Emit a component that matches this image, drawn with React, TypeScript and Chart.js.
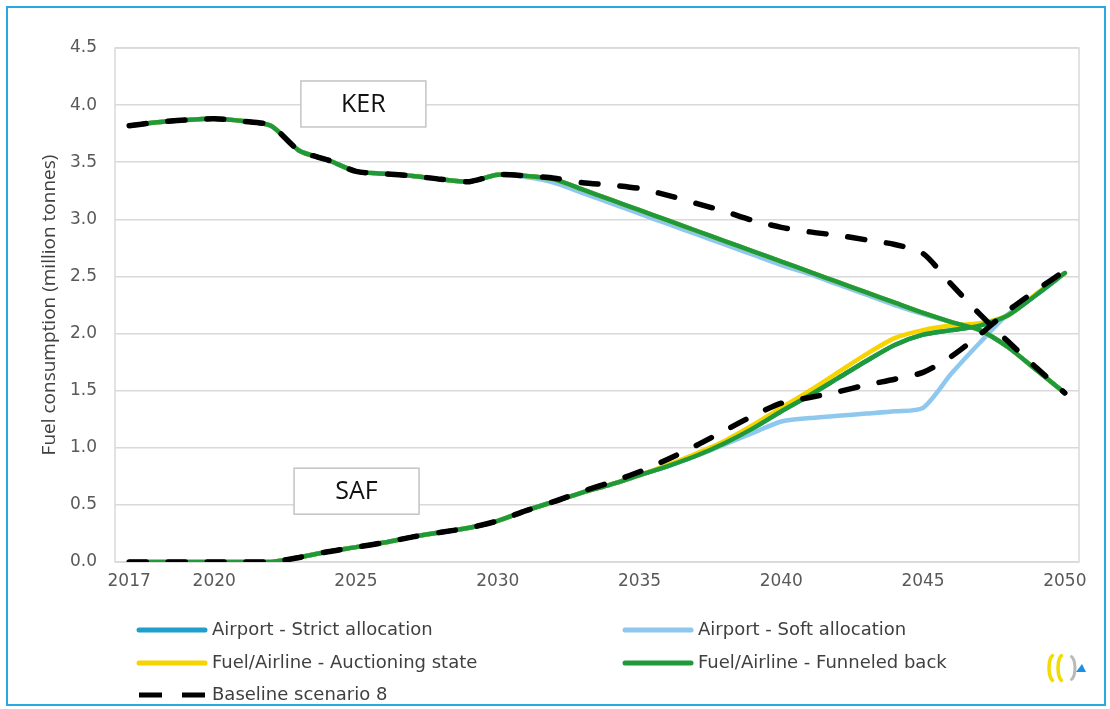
import React, { useEffect, useRef } from "react";
import { Chart, registerables } from "chart.js";

Chart.register(...registerables);

// ---------- DATA ----------
const years = [
  2017, 2018, 2019, 2020, 2021, 2022, 2023, 2024, 2025, 2026, 2027, 2028, 2029, 2030, 2031, 2032, 2033,
  2034, 2035, 2036, 2037, 2038, 2039, 2040, 2041, 2042, 2043, 2044, 2045, 2046, 2047, 2048, 2049, 2050,
];
const shownYearTicks = [2017, 2020, 2025, 2030, 2035, 2040, 2045, 2050];

const scenarioLabels = [
  "Airport - Strict allocation",
  "Airport - Soft allocation",
  "Fuel/Airline - Auctioning state",
  "Fuel/Airline - Funneled back",
  "Baseline scenario 8",
];
const scenarioColors = ["#1f9fca", "#8ec8ee", "#f7d300", "#1f9a3b", "#000000"];

// Kerosene (KER)
const kerStrict = [
  3.82, 3.85, 3.87, 3.88, 3.86, 3.82, 3.6, 3.52, 3.42, 3.4, 3.38, 3.35, 3.33, 3.39, 3.38, 3.35, 3.26,
  3.17, 3.08, 2.99, 2.9, 2.81, 2.72, 2.63, 2.54, 2.45, 2.36, 2.27, 2.18, 2.1, 2.03, 1.88, 1.68, 1.48,
];
const kerSoft = [
  3.82, 3.85, 3.87, 3.88, 3.86, 3.82, 3.6, 3.52, 3.42, 3.4, 3.38, 3.35, 3.33, 3.39, 3.37, 3.32, 3.23,
  3.14, 3.05, 2.96, 2.87, 2.78, 2.69, 2.6, 2.52, 2.43, 2.34, 2.25, 2.17, 2.1, 2.03, 1.88, 1.68, 1.48,
];
const kerAuction = [
  3.82, 3.85, 3.87, 3.88, 3.86, 3.82, 3.6, 3.52, 3.42, 3.4, 3.38, 3.35, 3.33, 3.39, 3.38, 3.35, 3.26,
  3.17, 3.08, 2.99, 2.9, 2.81, 2.72, 2.63, 2.54, 2.45, 2.36, 2.27, 2.18, 2.1, 2.03, 1.88, 1.68, 1.48,
];
const kerFunneled = [
  3.82, 3.85, 3.87, 3.88, 3.86, 3.82, 3.6, 3.52, 3.42, 3.4, 3.38, 3.35, 3.33, 3.39, 3.38, 3.35, 3.26,
  3.17, 3.08, 2.99, 2.9, 2.81, 2.72, 2.63, 2.54, 2.45, 2.36, 2.27, 2.18, 2.1, 2.03, 1.88, 1.68, 1.48,
];
const kerBaseline = [
  3.82, 3.85, 3.87, 3.88, 3.86, 3.82, 3.6, 3.52, 3.42, 3.4, 3.38, 3.35, 3.33, 3.39, 3.38, 3.36, 3.32,
  3.3, 3.27, 3.21, 3.14, 3.07, 2.99, 2.93, 2.89, 2.86, 2.82, 2.78, 2.7, 2.43, 2.17, 1.93, 1.7, 1.48,
];

// Sustainable aviation fuel (SAF)
const safStrict = [
  0, 0, 0, 0, 0, 0, 0.04, 0.09, 0.13, 0.17, 0.22, 0.26, 0.3, 0.36, 0.45, 0.53, 0.61,
  0.68, 0.76, 0.84, 0.93, 1.04, 1.17, 1.32, 1.46, 1.61, 1.76, 1.9, 1.99, 2.03, 2.07, 2.16, 2.34, 2.53,
];
const safSoft = [
  0, 0, 0, 0, 0, 0, 0.04, 0.09, 0.13, 0.17, 0.22, 0.26, 0.3, 0.36, 0.45, 0.53, 0.61,
  0.68, 0.76, 0.84, 0.93, 1.03, 1.13, 1.23, 1.26, 1.28, 1.3, 1.32, 1.35, 1.65, 1.92, 2.17, 2.34, 2.53,
];
const safAuction = [
  0, 0, 0, 0, 0, 0, 0.04, 0.09, 0.13, 0.17, 0.22, 0.26, 0.3, 0.36, 0.45, 0.53, 0.61,
  0.68, 0.76, 0.85, 0.95, 1.06, 1.2, 1.35, 1.5, 1.66, 1.82, 1.96, 2.03, 2.07, 2.09, 2.16, 2.35, 2.53,
];
const safFunneled = [
  0, 0, 0, 0, 0, 0, 0.04, 0.09, 0.13, 0.17, 0.22, 0.26, 0.3, 0.36, 0.45, 0.53, 0.61,
  0.68, 0.76, 0.84, 0.93, 1.04, 1.17, 1.32, 1.46, 1.61, 1.76, 1.9, 1.99, 2.03, 2.07, 2.16, 2.34, 2.53,
];
const safBaseline = [
  0, 0, 0, 0, 0, 0, 0.04, 0.09, 0.13, 0.17, 0.22, 0.26, 0.3, 0.36, 0.45, 0.53, 0.62,
  0.7, 0.79, 0.9, 1.02, 1.15, 1.28, 1.39, 1.44, 1.49, 1.55, 1.6, 1.66, 1.8, 1.99, 2.2, 2.38, 2.55,
];

const yAxisTitle = "Fuel consumption (million tonnes)";
const noteLabels = ["KER", "SAF"];
// note anchors in data units: [category index, value]
const noteAnchors = [
  [8.26, 4.01],
  [8.02, 0.62],
];

// ---------- CHART ----------
const kerSeries = [kerStrict, kerSoft, kerAuction, kerFunneled, kerBaseline];
const safSeries = [safStrict, safSoft, safAuction, safFunneled, safBaseline];
const drawOrder = [4, 3, 2, 1, 0]; // lower = on top

function makeDataset(scen: number, data: number[], part: string) {
  const isBase = scen === 4;
  return {
    label: scenarioLabels[scen] + " " + part,
    data,
    borderColor: scenarioColors[scen],
    backgroundColor: scenarioColors[scen],
    borderWidth: isBase ? 5.5 : 4.5,
    borderDash: isBase ? [17, 22] : [],
    borderCapStyle: "round",
    borderJoinStyle: "round",
    pointRadius: 0,
    tension: 0.25,
    fill: false,
    order: drawOrder[scen],
  };
}

const framePlugin = {
  id: "frame",
  beforeDatasetsDraw(chart: any) {
    const { ctx, chartArea } = chart;
    ctx.save();
    ctx.strokeStyle = "#d9d9d9";
    ctx.lineWidth = 1.5;
    ctx.strokeRect(chartArea.left, chartArea.top, chartArea.right - chartArea.left, chartArea.bottom - chartArea.top);
    ctx.restore();
  },
};

const notesPlugin = {
  id: "notes",
  afterDatasetsDraw(chart: any) {
    const { ctx, scales } = chart;
    ctx.save();
    noteLabels.forEach((t, i) => {
      const cx = scales.x.getPixelForValue(noteAnchors[i][0]);
      const cy = scales.y.getPixelForValue(noteAnchors[i][1]);
      const w = 125;
      const h = 46;
      ctx.fillStyle = "#ffffff";
      ctx.fillRect(cx - w / 2, cy - h / 2, w, h);
      ctx.strokeStyle = "#c4c4c4";
      ctx.lineWidth = 1.5;
      ctx.strokeRect(cx - w / 2, cy - h / 2, w, h);
      ctx.fillStyle = "#111111";
      ctx.font = "25px 'Open Sans'";
      ctx.textAlign = "center";
      ctx.textBaseline = "middle";
      ctx.fillText(t, cx, cy + 1);
    });
    ctx.restore();
  },
};

const legendPlugin = {
  id: "customLegend",
  afterDraw(chart: any) {
    const { ctx } = chart;
    const cols = [129, 615];
    const rows = [622, 655, 687];
    ctx.save();
    ctx.font = "18px 'DejaVu Sans'";
    ctx.textBaseline = "middle";
    ctx.textAlign = "left";
    scenarioLabels.forEach((lab, i) => {
      const x = cols[i % 2];
      const y = rows[Math.floor(i / 2)];
      ctx.strokeStyle = scenarioColors[i];
      ctx.lineWidth = 5;
      ctx.lineCap = i === 4 ? "butt" : "round";
      ctx.setLineDash(i === 4 ? [23, 20] : []);
      ctx.beginPath();
      ctx.moveTo(x + 2, y);
      ctx.lineTo(x + 68, y);
      ctx.stroke();
      ctx.setLineDash([]);
      ctx.fillStyle = "#404040";
      ctx.fillText(lab, x + 75, y);
    });
    // small logo
    const lx = 1040;
    const ly = 660;
    ctx.lineCap = "round";
    ctx.lineWidth = 3.5;
    ctx.strokeStyle = "#f2dc00";
    ctx.beginPath();
    ctx.ellipse(lx + 6, ly, 5, 13, 0, Math.PI * 0.6, Math.PI * 1.4);
    ctx.stroke();
    ctx.beginPath();
    ctx.ellipse(lx + 15, ly, 5, 13, 0, Math.PI * 0.6, Math.PI * 1.4);
    ctx.stroke();
    ctx.strokeStyle = "#b9b9b9";
    ctx.lineWidth = 3;
    ctx.beginPath();
    ctx.ellipse(lx + 22, ly, 5, 12, 0, Math.PI * 1.6, Math.PI * 2.4);
    ctx.stroke();
    ctx.fillStyle = "#1c8fe3";
    ctx.beginPath();
    ctx.moveTo(lx + 28, ly + 4);
    ctx.lineTo(lx + 38, ly + 4);
    ctx.lineTo(lx + 34, ly - 4);
    ctx.closePath();
    ctx.fill();
    ctx.restore();
  },
};

export default function App() {
  const canvasRef = useRef<HTMLCanvasElement | null>(null);

  useEffect(() => {
    if (!canvasRef.current) return;
    const datasets: any[] = [];
    for (let s = 0; s < 5; s++) {
      datasets.push(makeDataset(s, kerSeries[s], "KER"));
      datasets.push(makeDataset(s, safSeries[s], "SAF"));
    }
    const chart = new Chart(canvasRef.current, {
      type: "line",
      data: { labels: years.map(String), datasets },
      options: {
        responsive: false,
        animation: false,
        layout: { padding: { top: 40, right: 25, bottom: 102, left: 0 } },
        plugins: {
          legend: { display: false },
          tooltip: { enabled: false },
        },
        scales: {
          x: {
            type: "category",
            offset: true,
            grid: { display: false, drawTicks: false },
            border: { display: false },
            ticks: {
              autoSkip: false,
              maxRotation: 0,
              padding: 9,
              color: "#595959",
              font: { family: "'DejaVu Sans'", size: 17 },
              callback: (_v: any, i: number) => (shownYearTicks.includes(years[i]) ? String(years[i]) : ""),
            },
            afterFit: (s: any) => {
              s.height = 40;
            },
          },
          y: {
            min: 0,
            max: 4.5,
            grid: { color: "#d9d9d9", lineWidth: 1.5, drawTicks: false },
            border: { display: false },
            ticks: {
              stepSize: 0.5,
              padding: 18,
              color: "#595959",
              font: { family: "'DejaVu Sans'", size: 17 },
              callback: (v: any) => Number(v).toFixed(1),
            },
            title: {
              display: true,
              text: yAxisTitle,
              color: "#404040",
              font: { family: "'Open Sans'", size: 19 },
              padding: { top: 30, bottom: 0 },
            },
            afterFit: (s: any) => {
              s.width = 107;
            },
          },
        },
      },
      plugins: [framePlugin, notesPlugin, legendPlugin],
    } as any);
    return () => chart.destroy();
  }, []);

  return (
    <div
      style={{
        position: "absolute",
        left: 6,
        top: 6,
        width: 1100,
        height: 700,
        boxSizing: "border-box",
        border: "2px solid #27aae1",
        background: "#ffffff",
      }}
    >
      <canvas ref={canvasRef} width={1096} height={696} style={{ display: "block" }} />
    </div>
  );
}
